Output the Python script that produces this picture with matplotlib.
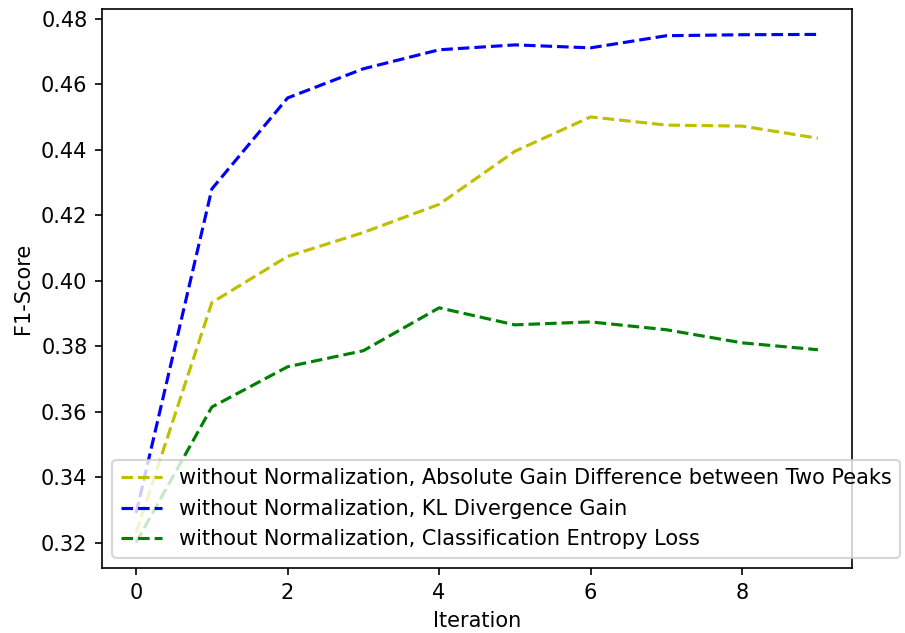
import numpy as np
import matplotlib
matplotlib.use('Agg')
import matplotlib.pyplot as plt

# F1-score per iteration for the three gain variants
iterations = np.arange(10)
abs_gain_diff = [0.323, 0.3933, 0.4074, 0.4147, 0.4233, 0.4395, 0.4500, 0.4475, 0.4472, 0.4435]
kl_gain = [0.329, 0.428, 0.4558, 0.4647, 0.4705, 0.4720, 0.4711, 0.4748, 0.4751, 0.4752]
entropy_loss = [0.320, 0.3614, 0.3737, 0.3786, 0.3917, 0.3865, 0.3874, 0.3850, 0.3810, 0.3789]

labels = [
    "without Normalization, Absolute Gain Difference between Two Peaks",
    "without Normalization, KL Divergence Gain",
    "without Normalization, Classification Entropy Loss",
]

fig = plt.figure(figsize=(905 / 150, 633 / 150), dpi=150)
ax = fig.add_axes([102 / 905, 65 / 633, 750 / 905, 559 / 633])

ax.plot(iterations, abs_gain_diff, 'y--', label=labels[0])
ax.plot(iterations, kl_gain, 'b--', label=labels[1])
ax.plot(iterations, entropy_loss, 'g--', label=labels[2])

ax.set_xlabel("Iteration")
ax.set_ylabel("F1-Score")
ax.legend(loc="lower left")

fig.savefig("out.png", dpi=150)
plt.close(fig)
